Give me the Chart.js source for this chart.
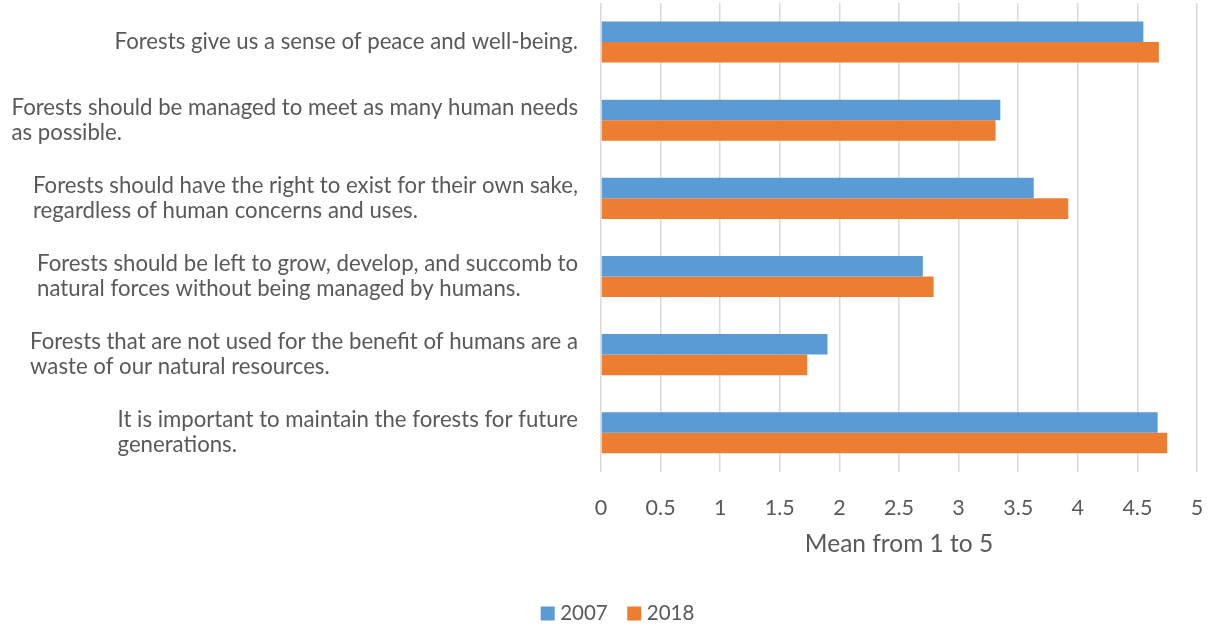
<!DOCTYPE html>
<html>
<head>
<meta charset="utf-8">
<script src="https://cdn.jsdelivr.net/npm/chart.js@4.4.1/dist/chart.umd.min.js"></script>
<style>
  html, body { margin: 0; padding: 0; background: #ffffff; }
  #wrap { width: 1217px; height: 627px; position: relative; }
</style>
</head>
<body>
<div id="wrap"><canvas id="chart"></canvas></div>
<script>
// Survey statements (each entry is the wrapped lines of one label)
const statements = [
  ["Forests give us a sense of peace and well-being."],
  ["Forests should be managed to meet as many human needs", "as possible."],
  ["Forests should have the right to exist for their own sake,", "regardless of human concerns and uses."],
  ["Forests should be left to grow, develop, and succomb to", "natural forces without being managed by humans."],
  ["Forests that are not used for the benefit of humans are a", "waste of our natural resources."],
  ["It is important to maintain the forests for future", "generations."]
];

// Mean agreement scores (1 to 5)
const mean2007 = [4.55, 3.35, 3.63, 2.70, 1.90, 4.67];
const mean2018 = [4.68, 3.31, 3.92, 2.79, 1.73, 4.75];

const seriesNames = ["2007", "2018"];
const axisTitle = "Mean from 1 to 5";

const FONT = "Lato, 'Open Sans', sans-serif";
const TEXT = "#595959";

// Statement labels: block right-aligned against the plot, lines left-aligned within it
const statementLabels = {
  id: "statementLabels",
  afterDraw(chart) {
    const ctx = chart.ctx;
    const y = chart.scales.y;
    const right = chart.chartArea.left - 23;
    const lineH = 25;
    ctx.save();
    ctx.font = "22.2px " + FONT;
    ctx.fillStyle = TEXT;
    ctx.textBaseline = "middle";
    ctx.textAlign = "left";
    statements.forEach((lines, i) => {
      const cy = y.getPixelForTick(i);
      const w = Math.max(...lines.map(l => ctx.measureText(l).width));
      const x0 = right - w;
      const top = cy - (lines.length - 1) * lineH / 2;
      lines.forEach((l, k) => ctx.fillText(l, x0, top + k * lineH));
    });
    ctx.restore();
  }
};

// Series key under the chart
const seriesKey = {
  id: "seriesKey",
  afterDraw(chart) {
    const ctx = chart.ctx;
    const box = 14, gapText = 5.5, gapItem = 19.5, cy = 613.5;
    ctx.save();
    ctx.font = "20.5px " + FONT;
    ctx.textBaseline = "middle";
    ctx.textAlign = "left";
    const items = chart.data.datasets.map(d => ({ text: d.label, color: d.backgroundColor, w: ctx.measureText(d.label).width }));
    const total = items.reduce((s, it) => s + box + gapText + it.w, 0) + gapItem * (items.length - 1);
    let x = (chart.width - total) / 2 + 9;
    items.forEach(it => {
      ctx.fillStyle = it.color;
      ctx.fillRect(x, cy - box / 2, box, box);
      ctx.fillStyle = TEXT;
      ctx.fillText(it.text, x + box + gapText, cy);
      x += box + gapText + it.w + gapItem;
    });
    ctx.restore();
  }
};

new Chart(document.getElementById("chart"), {
  type: "bar",
  data: {
    labels: statements.map(s => s.join(" ")),
    datasets: [
      { label: seriesNames[0], data: mean2007, backgroundColor: "#5B9BD5" },
      { label: seriesNames[1], data: mean2018, backgroundColor: "#ED7D31" }
    ]
  },
  options: {
    indexAxis: "y",
    responsive: true,
    maintainAspectRatio: false,
    animation: false,
    layout: { padding: { top: 3, right: 20, left: 0, bottom: 68 } },
    datasets: { bar: { barPercentage: 1.0, categoryPercentage: 0.526 } },
    scales: {
      x: {
        min: 0, max: 5,
        ticks: {
          stepSize: 0.5, color: TEXT, font: { family: FONT, size: 21.5 }, padding: 0,
          callback: v => String(v)
        },
        grid: { color: "#d9d9d9", lineWidth: 1.5, drawTicks: true, tickLength: 23, tickColor: "rgba(0,0,0,0)" },
        border: { display: false },
        title: { display: true, text: axisTitle, color: TEXT, font: { family: FONT, size: 24.5 }, padding: { top: 9, bottom: 0 } }
      },
      y: {
        ticks: { display: false },
        grid: { display: false },
        border: { display: false },
        afterFit(scale) { scale.width = 601; }
      }
    },
    plugins: {
      legend: { display: false },
      tooltip: { enabled: false }
    }
  },
  plugins: [statementLabels, seriesKey]
});
</script>
</body>
</html>
